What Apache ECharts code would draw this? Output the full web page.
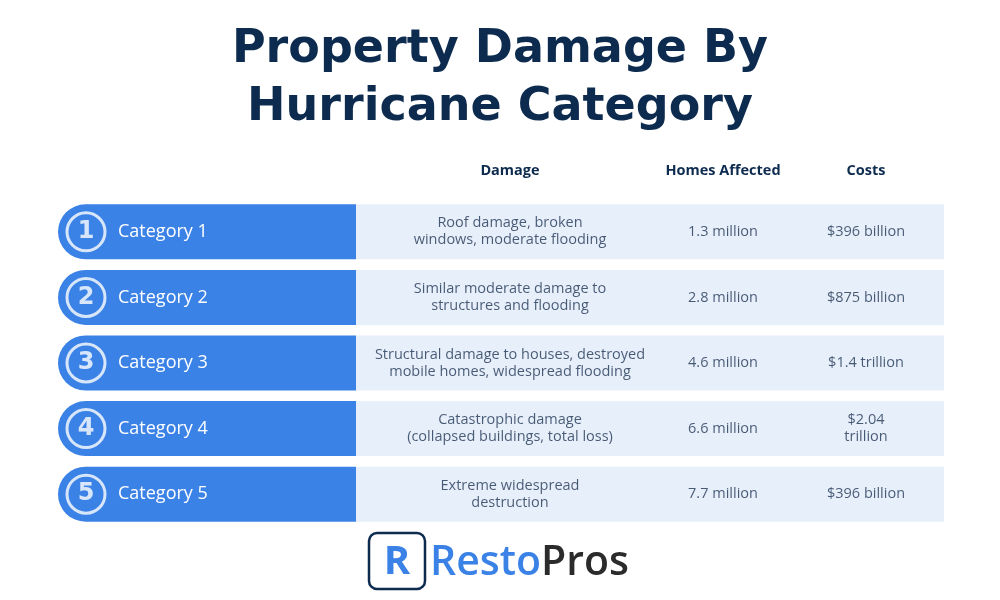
<!DOCTYPE html>
<html>
<head>
<meta charset="utf-8">
<script src="https://cdn.jsdelivr.net/npm/echarts@6/dist/echarts.min.js"></script>
<style>html,body{margin:0;padding:0;background:#fff}#main{width:1000px;height:600px}</style>
</head>
<body>
<div id="main"></div>
<script>
const categories = ['Category 1', 'Category 2', 'Category 3', 'Category 4', 'Category 5'];
const damage = [
    'Roof damage, broken\nwindows, moderate flooding',
    'Similar moderate damage to\nstructures and flooding',
    'Structural damage to houses, destroyed\nmobile homes, widespread flooding',
    'Catastrophic damage\n(collapsed buildings, total loss)',
    'Extreme widespread\ndestruction'
];
const homes = ['1.3 million', '2.8 million', '4.6 million', '6.6 million', '7.7 million'];
const costs = ['$396 billion', '$875 billion', '$1.4 trillion', '$2.04\ntrillion', '$396 billion'];
const headers = ['Damage', 'Homes Affected', 'Costs'];

const navy = '#0d2b4e';
const blue = '#3b82e6';
const light = '#e7effb';
const font = '"Open Sans", sans-serif';
const wide = '"DejaVu Sans", sans-serif';

// column positions (x in the 0..1000 axis)
const pad = categories.map(() => 58);
const blueSeg = categories.map(() => 298);
const lightSeg = categories.map(() => 588);

function textSeries(x, texts, extra) {
    return {
        type: 'scatter', symbolSize: 1, itemStyle: {color: 'transparent'},
        data: texts.map((t, i) => [x, i]),
        label: Object.assign({
            show: true, position: 'inside', color: '#1f3452', fontSize: 14.5,
            fontFamily: font, lineHeight: 17, align: 'center',
            formatter: p => texts[p.dataIndex]
        }, extra || {}),
        z: 5
    };
}

var myChart = echarts.init(document.getElementById('main'));
option = {
    animation: false,
    title: {
        text: 'Property Damage By\nHurricane Category',
        left: 'center', top: 16,
        textStyle: {color: navy, fontSize: 46, fontWeight: 'bold', fontFamily: wide, lineHeight: 58}
    },
    grid: {left: 0, right: 0, top: 199, bottom: 73},
    xAxis: {type: 'value', min: 0, max: 1000, show: false},
    yAxis: {type: 'category', data: categories, inverse: true, show: false},
    graphic: [
        {type: 'text', style: {text: headers[0], x: 510, y: 171, align: 'center', verticalAlign: 'middle', fill: navy, font: 'bold 14.5px ' + font}},
        {type: 'text', style: {text: headers[1], x: 723, y: 171, align: 'center', verticalAlign: 'middle', fill: navy, font: 'bold 14.5px ' + font}},
        {type: 'text', style: {text: headers[2], x: 866, y: 171, align: 'center', verticalAlign: 'middle', fill: navy, font: 'bold 14.5px ' + font}},
        {type: 'rect', shape: {x: 369, y: 533, width: 56, height: 56, r: 8}, style: {fill: '#fff', stroke: navy, lineWidth: 2.5}},
        {type: 'text', style: {text: 'R', x: 397, y: 563, align: 'center', verticalAlign: 'middle', fill: blue, font: 'bold 40px ' + font}},
        {type: 'text', style: {
            x: 430, y: 563, verticalAlign: 'middle',
            text: '{a|Resto}{b|Pros}',
            rich: {a: {fill: blue, fontSize: 41, fontWeight: 600, fontFamily: font}, b: {fill: '#2b2b2b', fontSize: 41, fontWeight: 600, fontFamily: font}}
        }}
    ],
    series: [
        {type: 'bar', stack: 'row', data: pad, barWidth: 55, itemStyle: {color: 'transparent'}, silent: true},
        {type: 'bar', stack: 'row', data: blueSeg, barWidth: 55, itemStyle: {color: blue, borderRadius: [28, 0, 0, 28]},
            label: {show: true, position: 'insideLeft', offset: [55, 0], color: '#fff', fontSize: 18, fontFamily: font,
                formatter: p => categories[p.dataIndex]}},
        {type: 'bar', stack: 'row', data: lightSeg, barWidth: 55, itemStyle: {color: light}},
        {
            type: 'scatter', symbol: 'circle', symbolSize: 38,
            data: categories.map((c, i) => [86, i]),
            itemStyle: {color: blue, borderColor: '#fff', borderWidth: 3},
            label: {show: true, position: 'inside', color: '#fff', fontSize: 24, fontWeight: 900, fontFamily: wide,
                formatter: p => String(p.dataIndex + 1)},
            z: 4
        },
        textSeries(510, damage),
        textSeries(723, homes),
        textSeries(866, costs)
    ]
};
myChart.setOption(option);
</script>
</body>
</html>
